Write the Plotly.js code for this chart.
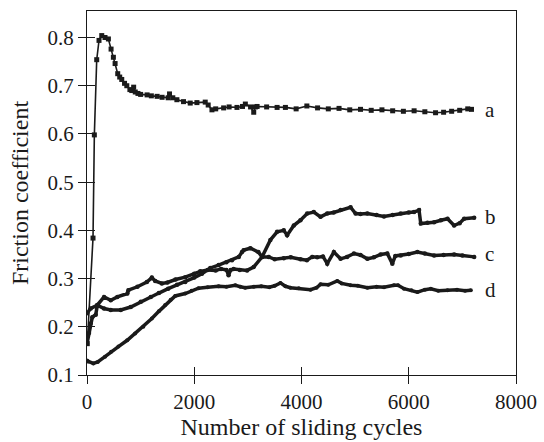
<!DOCTYPE html>
<html>
<head>
<meta charset="utf-8">
<script src="https://cdn.plot.ly/plotly-3.0.1.min.js"></script>
<style>html,body{margin:0;padding:0;background:#fff;}#chart{width:544px;height:442px;}</style>
</head>
<body>
<div id="chart"></div>
<script>
// Series a
const aX = [5,112,137,181,224,275,336,399,449,492,524,573,610,648,700,742,800,835,870,900,950,1000,1121,1200,1308,1400,1514,1539,1600,1676,1800,1925,2050,2205,2260,2330,2400,2548,2650,2797,2900,2953,3050,3109,3140,3172,3350,3545,3700,3900,4100,4300,4500,4700,4900,5100,5300,5500,5700,5900,6100,6300,6500,6650,6800,6950,7100,7170];
const aY = [0.165,0.384,0.598,0.754,0.794,0.804,0.800,0.797,0.776,0.759,0.746,0.725,0.718,0.713,0.705,0.700,0.692,0.690,0.697,0.687,0.684,0.682,0.681,0.679,0.678,0.676,0.675,0.683,0.675,0.671,0.667,0.664,0.665,0.666,0.660,0.650,0.652,0.654,0.656,0.655,0.657,0.662,0.656,0.645,0.656,0.657,0.656,0.655,0.655,0.652,0.658,0.654,0.652,0.653,0.650,0.651,0.649,0.650,0.648,0.647,0.648,0.646,0.644,0.645,0.647,0.649,0.652,0.651];
// Series b
const bX = [0,37,69,99,163,193,318,443,566,753,772,940,1116,1209,1271,1396,1500,1650,1832,2000,2112,2250,2400,2500,2600,2640,2680,2734,2850,2985,3108,3265,3420,3545,3669,3732,3856,3981,4106,4230,4355,4480,4600,4729,4915,5009,5100,5228,5400,5538,5700,5850,6000,6099,6192,6224,6350,6472,6600,6723,6846,6950,7033,7220];
const bY = [0.165,0.187,0.207,0.220,0.225,0.245,0.262,0.255,0.262,0.269,0.276,0.283,0.293,0.302,0.295,0.290,0.292,0.298,0.303,0.310,0.315,0.318,0.317,0.320,0.318,0.307,0.318,0.320,0.318,0.317,0.324,0.345,0.380,0.397,0.400,0.390,0.410,0.421,0.435,0.438,0.428,0.435,0.437,0.442,0.448,0.435,0.434,0.435,0.432,0.429,0.432,0.435,0.437,0.438,0.442,0.414,0.416,0.417,0.421,0.424,0.410,0.415,0.424,0.426];
// Series c
const cX = [0,69,193,318,443,630,816,1003,1190,1340,1514,1680,1832,2000,2143,2299,2454,2600,2704,2830,2891,2921,3047,3196,3265,3390,3500,3669,3800,3981,4100,4200,4293,4400,4480,4604,4729,4850,4978,5100,5228,5350,5476,5600,5694,5750,5850,6000,6161,6300,6472,6650,6846,7000,7220];
const cY = [0.228,0.238,0.245,0.238,0.235,0.235,0.241,0.252,0.262,0.270,0.279,0.287,0.293,0.302,0.310,0.322,0.328,0.334,0.338,0.345,0.355,0.359,0.363,0.355,0.345,0.345,0.340,0.342,0.344,0.340,0.338,0.345,0.344,0.346,0.331,0.355,0.341,0.345,0.352,0.349,0.341,0.344,0.350,0.352,0.331,0.347,0.348,0.351,0.355,0.352,0.348,0.349,0.350,0.348,0.345];
// Series d
const dX = [0,25,118,200,336,450,586,750,897,1050,1209,1340,1458,1560,1645,1832,1950,2080,2250,2454,2600,2766,2860,2950,3109,3250,3400,3500,3607,3700,3794,3950,4168,4280,4355,4500,4667,4750,4916,5050,5228,5400,5538,5725,5800,5912,6050,6162,6300,6411,6550,6723,6900,7050,7158];
const dY = [0.130,0.128,0.124,0.127,0.138,0.148,0.159,0.172,0.186,0.200,0.217,0.232,0.245,0.256,0.264,0.269,0.275,0.280,0.282,0.284,0.283,0.286,0.283,0.281,0.283,0.284,0.282,0.285,0.291,0.284,0.281,0.280,0.277,0.281,0.288,0.287,0.295,0.290,0.286,0.285,0.281,0.283,0.282,0.286,0.286,0.279,0.276,0.272,0.277,0.279,0.275,0.276,0.277,0.275,0.276];

const seriesLabels = ['a','b','c','d'];
const labelX = 7380;
const labelY = [0.649, 0.428, 0.350, 0.276];
const xTicks = [0,2000,4000,6000,8000];
const yTicks = [0.1,0.2,0.3,0.4,0.5,0.6,0.7,0.8];

const ink = '#1a1a1a';
const font = "'Liberation Serif', 'Times New Roman', Times, serif";

const traces = [
  {x:aX, y:aY, mode:'lines+markers', line:{color:ink, width:1.6}, marker:{symbol:'square', size:5, color:ink}},
  {x:bX, y:bY, mode:'lines+markers', line:{color:ink, width:3.5}, marker:{symbol:'circle', size:4.5, color:ink}},
  {x:cX, y:cY, mode:'lines+markers', line:{color:ink, width:3.5}, marker:{symbol:'circle', size:4.5, color:ink}},
  {x:dX, y:dY, mode:'lines+markers', line:{color:ink, width:3.5}, marker:{symbol:'circle', size:4, color:ink}},
  {x:[0], y:[0.1], xaxis:'x2', yaxis:'y2', mode:'markers', marker:{opacity:0}, hoverinfo:'skip'}
];

const yr = [0.1, 0.855];
const xr = [0, 8000];
const layout = {
  width:544, height:442,
  margin:{l:87, r:28, t:11, b:67},
  paper_bgcolor:'#fff', plot_bgcolor:'#fff',
  showlegend:false,
  font:{family:font, color:ink, size:21},
  xaxis:{range:xr, tickvals:xTicks, ticktext:xTicks.map(String), ticks:'outside', ticklen:8, tickwidth:1, tickcolor:ink,
         showline:true, linecolor:ink, linewidth:1, mirror:true, showgrid:false, zeroline:false,
         tickfont:{family:font, size:21, color:ink},
         title:{text:'Number of sliding cycles', font:{family:font, size:24, color:ink}, standoff:3}},
  yaxis:{range:yr, tickvals:yTicks, ticktext:yTicks.map(v=>v.toFixed(1)), ticks:'outside', ticklen:8, tickwidth:1, tickcolor:ink,
         showline:true, linecolor:ink, linewidth:1, mirror:true, showgrid:false, zeroline:false,
         tickfont:{family:font, size:21, color:ink},
         title:{text:'Friction coefficient', font:{family:font, size:24, color:ink}, standoff:12}},
  xaxis2:{overlaying:'x', range:xr, tickvals:xTicks, ticks:'inside', ticklen:8, tickwidth:1, tickcolor:ink, showticklabels:false, showgrid:false, zeroline:false, showline:false, side:'bottom', anchor:'y2'},
  yaxis2:{overlaying:'y', range:yr, tickvals:yTicks, ticks:'inside', ticklen:8, tickwidth:1, tickcolor:ink, showticklabels:false, showgrid:false, zeroline:false, showline:false, side:'left', anchor:'x2'},
  annotations: seriesLabels.map((t,i)=>({x:labelX, y:labelY[i], xref:'x', yref:'y', text:t, showarrow:false, xanchor:'left', yanchor:'middle', font:{family:font, size:21, color:ink}}))
};

Plotly.newPlot('chart', traces, layout, {staticPlot:true, displayModeBar:false});
</script>
</body>
</html>
